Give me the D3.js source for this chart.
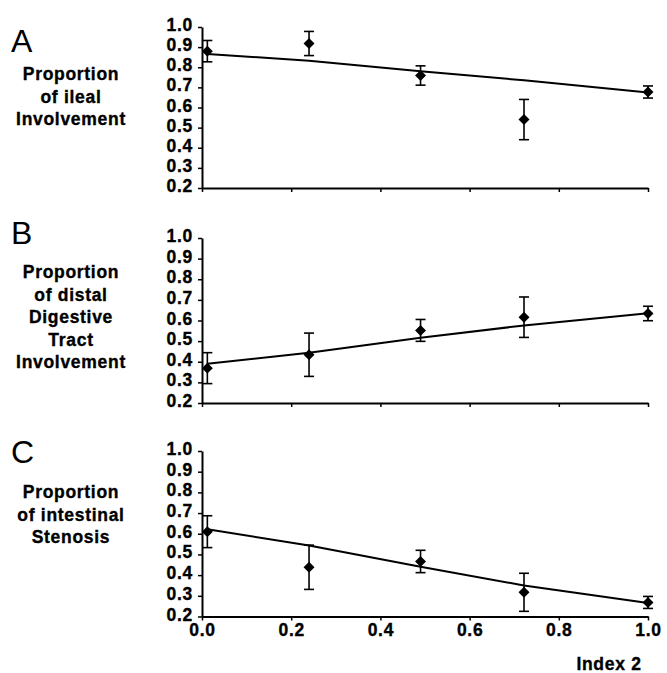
<!DOCTYPE html>
<html>
<head>
<meta charset="utf-8">
<script src="https://cdn.jsdelivr.net/npm/d3@7"></script>
<style>
  body { margin: 0; background: #fff; }
  svg text { font-family: "Liberation Sans", Arial, sans-serif; fill: #000; }
  .bold { font-weight: bold; font-size: 17.5px; letter-spacing: 0.7px; stroke: #000; stroke-width: 0.35px; }
</style>
</head>
<body>
<svg id="chart" width="667" height="673"></svg>
<script>
// values
var indexX = [0.012, 0.24, 0.49, 0.722, 1.0];

var ilealMean = [0.88, 0.918, 0.759, 0.54, 0.677];
var ilealErr  = [0.053, 0.06, 0.048, 0.1, 0.03];
var ilealFit  = [0.866, 0.832, 0.78, 0.735, 0.675];

var distalMean = [0.369, 0.434, 0.552, 0.616, 0.634];
var distalErr  = [0.075, 0.105, 0.053, 0.098, 0.035];
var distalFit  = [0.39, 0.444, 0.516, 0.576, 0.635];

var stenosisMean = [0.61, 0.438, 0.466, 0.317, 0.268];
var stenosisErr  = [0.077, 0.107, 0.054, 0.092, 0.029];
var stenosisFit  = [0.622, 0.543, 0.44, 0.35, 0.265];

var yTicks = [0.2, 0.3, 0.4, 0.5, 0.6, 0.7, 0.8, 0.9, 1.0];
var xTicks = [0.0, 0.2, 0.4, 0.6, 0.8, 1.0];

var panelLetters = ["A", "B", "C"];
var panelTitles = [
  ["Proportion", "of ileal", "Involvement"],
  ["Proportion", "of distal", "Digestive", "Tract", "Involvement"],
  ["Proportion", "of intestinal", "Stenosis"]
];
var xTitle = "Index 2";

// layout
var svg = d3.select("#chart");
var x = d3.scaleLinear().domain([0, 1]).range([202, 648]);
var panels = [
  { mean: ilealMean, err: ilealErr, fit: ilealFit, yr: [188, 27], letterY: 52, titleY: 80 },
  { mean: distalMean, err: distalErr, fit: distalFit, yr: [403, 238], letterY: 244, titleY: 278 },
  { mean: stenosisMean, err: stenosisErr, fit: stenosisFit, yr: [616.5, 451], letterY: 463, titleY: 498 }
];
var lineH = 22.5;

panels.forEach(function(p, k) {
  var y = d3.scaleLinear().domain([0.2, 1.0]).range(p.yr);
  var g = svg.append("g");

  // panel letter + stacked label
  g.append("text")
    .attr("x", 11).attr("y", p.letterY)
    .attr("font-size", "32px")
    .text(panelLetters[k]);
  var t = g.append("text")
    .attr("class", "bold")
    .attr("text-anchor", "middle");
  panelTitles[k].forEach(function(s, i) {
    t.append("tspan").attr("x", 71).attr("y", p.titleY + i * lineH).text(s);
  });

  // axes
  var ya = g.append("g")
    .attr("transform", "translate(" + x(0) + ",0)")
    .call(d3.axisLeft(y).tickValues(yTicks).tickFormat(d3.format(".1f"))
      .tickSize(4).tickSizeOuter(0).tickPadding(5));
  ya.selectAll("text")
    .attr("class", "bold")
    .attr("dy", "0.2em");

  var xa = g.append("g")
    .attr("transform", "translate(0," + y(0.2) + ")")
    .call(d3.axisBottom(x).tickValues(xTicks).tickFormat(d3.format(".1f"))
      .tickSize(4).tickSizeOuter(0).tickPadding(3));
  if (k < 2) {
    xa.selectAll("text").remove();
  } else {
    xa.selectAll("text").attr("class", "bold");
  }
  [ya, xa].forEach(function(a) {
    a.attr("font-size", null).attr("font-family", null);
    a.select(".domain").attr("stroke", "#000").attr("stroke-width", 2);
    a.selectAll(".tick line").attr("stroke", "#000").attr("stroke-width", 1.5);
  });

  // fitted line
  g.append("path")
    .datum(indexX)
    .attr("fill", "none")
    .attr("stroke", "#000")
    .attr("stroke-width", 2)
    .attr("d", d3.line()
      .x(function(d) { return x(d); })
      .y(function(d, i) { return y(p.fit[i]); }));

  // error bars
  var eb = g.selectAll(".eb").data(indexX).enter().append("g");
  eb.append("line")
    .attr("x1", function(d) { return x(d); })
    .attr("x2", function(d) { return x(d); })
    .attr("y1", function(d, i) { return y(p.mean[i] + p.err[i]); })
    .attr("y2", function(d, i) { return y(p.mean[i] - p.err[i]); })
    .attr("stroke", "#000").attr("stroke-width", 1.6);
  [1, -1].forEach(function(sg) {
    eb.append("line")
      .attr("x1", function(d) { return x(d) - 5; })
      .attr("x2", function(d) { return x(d) + 5; })
      .attr("y1", function(d, i) { return y(p.mean[i] + sg * p.err[i]); })
      .attr("y2", function(d, i) { return y(p.mean[i] + sg * p.err[i]); })
      .attr("stroke", "#000").attr("stroke-width", 1.6);
  });

  // diamonds
  g.selectAll(".pt").data(indexX).enter().append("path")
    .attr("d", d3.symbol().type(d3.symbolSquare).size(60))
    .attr("transform", function(d, i) {
      return "translate(" + x(d) + "," + y(p.mean[i]) + ") rotate(45)";
    })
    .attr("fill", "#000");
});

svg.append("text")
  .attr("class", "bold")
  .attr("x", 609).attr("y", 670)
  .attr("text-anchor", "middle")
  .text(xTitle);
</script>
</body>
</html>
